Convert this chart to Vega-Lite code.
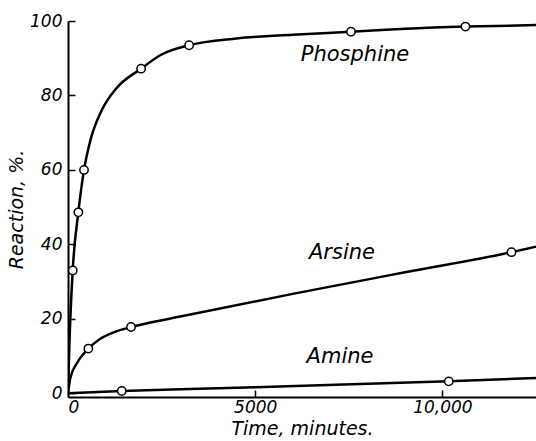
{
  "$schema": "https://vega.github.io/schema/vega-lite/v6.json",
  "width": 468,
  "height": 376,
  "autosize": {"type": "none"},
  "padding": {"left": 68, "top": 21, "right": 0, "bottom": 44},
  "background": "white",
  "config": {
    "view": {"stroke": null},
    "axis": {"grid": false, "domainColor": "black", "tickColor": "black", "domainWidth": 2, "tickWidth": 1.5,
      "labelFont": "DejaVu Sans", "labelFontStyle": "italic", "labelFontSize": 17, "labelColor": "black",
      "titleFont": "DejaVu Sans", "titleFontStyle": "italic", "titleFontSize": 19, "titleFontWeight": "normal", "titleColor": "black"}
  },
  "datasets": {
    "curves": [
      {"series": "Phosphine", "t": 0, "r": 0},
      {"series": "Phosphine", "t": 40, "r": 14},
      {"series": "Phosphine", "t": 126, "r": 33},
      {"series": "Phosphine", "t": 276, "r": 48.6},
      {"series": "Phosphine", "t": 428, "r": 60},
      {"series": "Phosphine", "t": 600, "r": 68},
      {"series": "Phosphine", "t": 900, "r": 76},
      {"series": "Phosphine", "t": 1300, "r": 82},
      {"series": "Phosphine", "t": 1952, "r": 87.2},
      {"series": "Phosphine", "t": 2500, "r": 91},
      {"series": "Phosphine", "t": 3235, "r": 93.5},
      {"series": "Phosphine", "t": 4500, "r": 95.3},
      {"series": "Phosphine", "t": 6000, "r": 96.3},
      {"series": "Phosphine", "t": 7558, "r": 97.1},
      {"series": "Phosphine", "t": 9000, "r": 97.9},
      {"series": "Phosphine", "t": 10615, "r": 98.5},
      {"series": "Phosphine", "t": 12500, "r": 98.9},
      {"series": "Arsine", "t": 0, "r": 0},
      {"series": "Arsine", "t": 60, "r": 4},
      {"series": "Arsine", "t": 232, "r": 8},
      {"series": "Arsine", "t": 544, "r": 12},
      {"series": "Arsine", "t": 855, "r": 14.6},
      {"series": "Arsine", "t": 1200, "r": 16.3},
      {"series": "Arsine", "t": 1684, "r": 17.8},
      {"series": "Arsine", "t": 3000, "r": 20.6},
      {"series": "Arsine", "t": 6000, "r": 26.7},
      {"series": "Arsine", "t": 9000, "r": 32.5},
      {"series": "Arsine", "t": 11845, "r": 37.9},
      {"series": "Arsine", "t": 12500, "r": 39.4},
      {"series": "Amine", "t": 0, "r": 0},
      {"series": "Amine", "t": 1435, "r": 0.6},
      {"series": "Amine", "t": 3500, "r": 1.2},
      {"series": "Amine", "t": 5000, "r": 1.6},
      {"series": "Amine", "t": 10170, "r": 3.2},
      {"series": "Amine", "t": 12500, "r": 4.1}
    ],
    "obs": [
      {"series": "Phosphine", "t": 126, "r": 33},
      {"series": "Phosphine", "t": 276, "r": 48.6},
      {"series": "Phosphine", "t": 428, "r": 60},
      {"series": "Phosphine", "t": 1952, "r": 87.2},
      {"series": "Phosphine", "t": 3235, "r": 93.5},
      {"series": "Phosphine", "t": 7558, "r": 97.1},
      {"series": "Phosphine", "t": 10615, "r": 98.5},
      {"series": "Arsine", "t": 544, "r": 12},
      {"series": "Arsine", "t": 1684, "r": 17.8},
      {"series": "Arsine", "t": 11845, "r": 37.9},
      {"series": "Amine", "t": 1435, "r": 0.6},
      {"series": "Amine", "t": 10170, "r": 3.2}
    ],
    "labels": [
      {"name": "Phosphine", "t": 7665, "r": 90.9},
      {"name": "Arsine", "t": 7318, "r": 37.6},
      {"name": "Amine", "t": 7265, "r": 9.7}
    ]
  },
  "layer": [
    {
      "data": {"name": "curves"},
      "mark": {"type": "line", "interpolate": "monotone", "color": "black", "strokeWidth": 2.5, "clip": true},
      "encoding": {
        "x": {"field": "t", "type": "quantitative", "scale": {"domain": [0, 12500], "nice": false},
          "axis": {"values": [0, 5000, 10000], "labelExpr": "datum.value == 10000 ? '10,000' : datum.value", "title": "Time, minutes.", "tickSize": -7, "labelPadding": 9, "titlePadding": 4}},
        "y": {"field": "r", "type": "quantitative", "scale": {"domain": [-1, 100], "nice": false, "zero": false},
          "axis": {"values": [0, 20, 40, 60, 80, 100], "title": "Reaction, %.", "tickSize": -7, "labelPadding": 13, "titlePadding": 3}},
        "detail": {"field": "series"}
      }
    },
    {
      "data": {"name": "obs"},
      "mark": {"type": "point", "shape": "circle", "filled": true, "fill": "white", "stroke": "black", "strokeWidth": 1.5, "size": 70, "opacity": 1},
      "encoding": {
        "x": {"field": "t", "type": "quantitative"},
        "y": {"field": "r", "type": "quantitative"}
      }
    },
    {
      "data": {"name": "labels"},
      "mark": {"type": "text", "font": "DejaVu Sans", "fontStyle": "italic", "fontSize": 21, "color": "black"},
      "encoding": {
        "x": {"field": "t", "type": "quantitative"},
        "y": {"field": "r", "type": "quantitative"},
        "text": {"field": "name"}
      }
    }
  ]
}
